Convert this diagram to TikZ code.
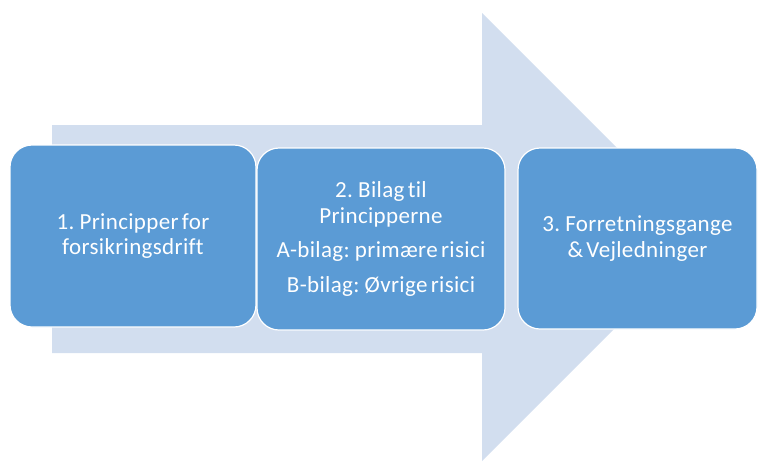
\documentclass[tikz,border=0pt]{standalone}
\usepackage{fontspec}
\setmainfont{Carlito}[Ligatures=NoCommon,LetterSpace=1.5,WordSpace=0.6]
\definecolor{boxblue}{HTML}{5B9BD5}
\definecolor{arrowblue}{HTML}{D2DEEF}
\tikzset{stagebox/.style={rounded corners=22pt, fill=boxblue, draw=white, line width=1.2pt,
  text=white, align=center, font=\fontsize{23}{25.5}\selectfont, inner sep=0pt}}

\begin{document}
\begin{tikzpicture}[x=1pt,y=-1pt]
\useasboundingbox (0,0) rectangle (760,461);
% big arrow in the back
\fill[arrowblue] (52,125) -- (482,125) -- (482,13) -- (706,237) -- (482,461) -- (482,353) -- (52,353) -- cycle;
% the three stages
\node[stagebox, minimum width=246pt, minimum height=182pt] (b1) at (133,236) {1. Principper for\\forsikringsdrift};
\node[stagebox, minimum width=248pt, minimum height=182pt] (b2) at (381,239) {2. Bilag til\\Principperne\\[9pt]A-bilag: primære risici\\[9pt]B-bilag: Øvrige risici};
\node[stagebox, minimum width=239pt, minimum height=181pt] (b3) at (637.5,238.5) {3. Forretningsgange\\\& Vejledninger};
\end{tikzpicture}
\end{document}
